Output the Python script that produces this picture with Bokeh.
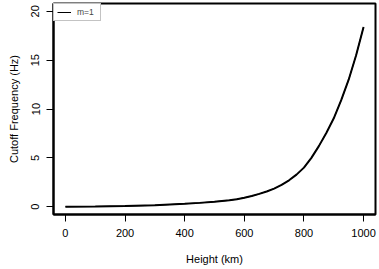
from bokeh.plotting import figure
from bokeh.models import FixedTicker, Range1d, Legend, LegendItem
from bokeh.embed import file_html
from bokeh.resources import INLINE

height_km = [0, 100, 200, 300, 400, 450, 500, 550, 575, 600, 625, 650, 675, 700,
             725, 750, 775, 800, 825, 850, 875, 900, 925, 950, 975, 1000]
cutoff_hz = [0.0, 0.02, 0.06, 0.14, 0.3, 0.39, 0.51, 0.65, 0.77, 0.91, 1.09, 1.31, 1.56, 1.85,
             2.23, 2.7, 3.28, 4.0, 5.0, 6.2, 7.55, 9.05, 10.9, 13.0, 15.5, 18.4]
x_ticks = [0, 200, 400, 600, 800, 1000]
y_ticks = [0, 5, 10, 15, 20]
series_label = "m=1"

FONT = "Liberation Sans"

p = figure(width=379, height=269, output_backend="svg", toolbar_location=None,
           x_range=Range1d(-40, 1040), y_range=Range1d(-0.8, 20.8),
           min_border_left=53, min_border_right=4, min_border_top=3, min_border_bottom=55)
p.grid.visible = False
p.background_fill_color = "white"
p.border_fill_color = "white"
p.outline_line_color = "black"
p.outline_line_width = 2

# thin copy (used for the legend sample), covered by the thick curve
r_leg = p.line(height_km, cutoff_hz, line_color="black", line_width=1)
p.line(height_km, cutoff_hz, line_color="black", line_width=2)

for ax in (p.xaxis[0], p.yaxis[0]):
    ax.axis_line_color = "black"
    ax.axis_line_width = 2
    ax.major_tick_line_color = "black"
    ax.major_tick_line_width = 1
    ax.major_tick_out = 7
    ax.major_tick_in = 0
    ax.minor_tick_line_color = None
    ax.major_label_text_font = FONT
    ax.major_label_text_font_size = "11px"
    ax.major_label_text_color = "black"
    ax.axis_label_text_font = FONT
    ax.axis_label_text_font_size = "11px"
    ax.axis_label_text_font_style = "normal"
    ax.axis_label_text_color = "black"
    ax.major_label_standoff = 7

p.xaxis[0].ticker = FixedTicker(ticks=x_ticks)
p.yaxis[0].ticker = FixedTicker(ticks=y_ticks)
p.yaxis[0].major_label_orientation = "vertical"
p.yaxis[0].major_label_standoff = 7
p.xaxis[0].axis_label = "Height (km)"
p.yaxis[0].axis_label = "Cutoff Frequency (Hz)"
p.xaxis[0].axis_label_standoff = 13
p.yaxis[0].axis_label_standoff = 9

legend = Legend(items=[LegendItem(label=series_label, renderers=[r_leg])], location="top_left")
legend.margin = 0
legend.padding = 3
legend.spacing = 0
legend.border_line_color = "#888888"
legend.border_line_width = 1
legend.label_text_font = FONT
legend.label_text_font_size = "8.5px"
legend.label_standoff = 6
legend.glyph_width = 14
legend.glyph_height = 10
legend.label_height = 10
legend.background_fill_alpha = 1
p.add_layout(legend)

open("out.html", "w").write(file_html(p, INLINE))
